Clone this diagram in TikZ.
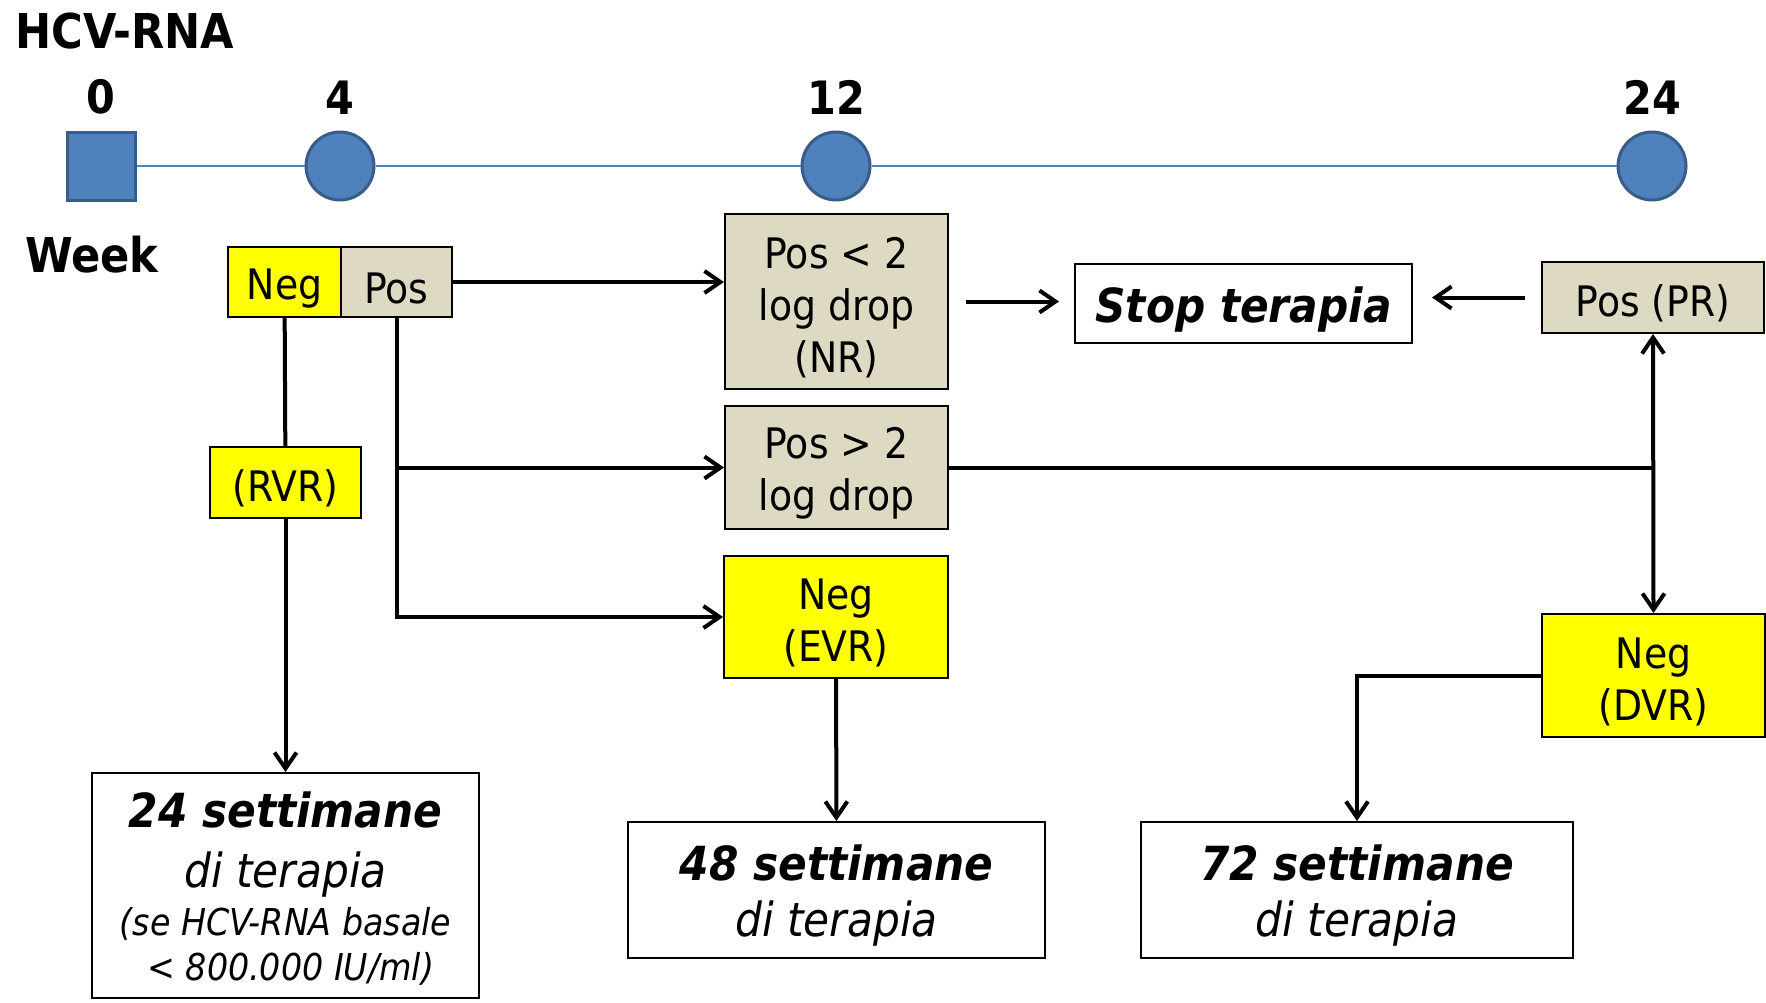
\documentclass[tikz,border=0pt]{standalone}
\usepackage{fontspec}
\setmainfont{DejaVu Sans Condensed}
\usetikzlibrary{positioning,arrows.meta}
\definecolor{tlblue}{HTML}{4F81BD}
\definecolor{tledge}{HTML}{385D8A}
\definecolor{boxyel}{HTML}{FFFF00}
\definecolor{boxtan}{HTML}{DDD9C3}
\newcommand\lift[1][1.03em]{\rule{0pt}{#1}}

\begin{document}
\begin{tikzpicture}[x=0.5pt,y=-0.5pt,line join=miter,>={Straight Barb[length=8pt,width=11pt]},
  every node/.style={inner sep=0pt},
  lowtext/.style={execute at begin node={\lift}},
  lbl/.style={draw=black,line width=1pt,align=center,lowtext,font=\fontsize{21}{26}\selectfont},
  tanbox/.style={lbl,fill=boxtan},
  yelbox/.style={lbl,fill=boxyel},
  endbox/.style={draw=black,line width=1pt,fill=white,align=center,font=\fontsize{23.5}{28}\selectfont\itshape},
  wknum/.style={font=\fontsize{23}{23}\selectfont\bfseries},
  flow/.style={line width=2pt}]
  \useasboundingbox (0,0) rectangle (1766,1002);
  % timeline
  \node[font=\fontsize{24}{24}\selectfont\bfseries] (title) at (125,31) {HCV-RNA};
  \node[font=\fontsize{24}{24}\selectfont\bfseries] (week) at (92,255) {Week};
  \node[draw=tledge,line width=1.5pt,fill=tlblue,minimum size=34pt] (w0) at (101,166) {};
  \node[circle,draw=tledge,line width=1.5pt,fill=tlblue,minimum size=34pt] (w4) at (340,166) {};
  \node[circle,draw=tledge,line width=1.5pt,fill=tlblue,minimum size=34pt] (w12) at (836,166) {};
  \node[circle,draw=tledge,line width=1.5pt,fill=tlblue,minimum size=34pt] (w24) at (1652,166) {};
  \draw[tlblue,line width=1pt] (w0) -- (w4) -- (w12) -- (w24);
  \node[wknum,above=8pt of w0] (n0) {0};
  \node[wknum,above=8pt of w4] (n4) {4};
  \node[wknum,above=8pt of w12] (n12) {12};
  \node[wknum,above=8pt of w24] (n24) {24};
  % week 4
  \node[yelbox,minimum width=56.5pt,minimum height=35pt] (neg) at (284.5,282) {Neg};
  \node[tanbox,minimum width=55.5pt,minimum height=35pt] (pos) at (396.5,282) {Pos};
  \node[yelbox,minimum width=75.5pt,minimum height=35.5pt] (rvr) at (285.5,482.5) {(RVR)};
  % week 12
  \node[tanbox,minimum width=111.5pt,minimum height=87.5pt] (nr) at (836.5,301.5) {\lift Pos < 2\\log drop\\(NR)};
  \node[tanbox,minimum width=111.5pt,minimum height=61.5pt] (drop) at (836.5,467.5) {\lift Pos > 2\\log drop};
  \node[yelbox,minimum width=112pt,minimum height=61pt] (evr) at (836,617) {\lift Neg\\(EVR)};
  \node[draw=black,line width=1pt,minimum width=168.5pt,minimum height=39.5pt,lowtext,
        font=\fontsize{23.5}{24}\selectfont\bfseries\itshape] (stop) at (1243.5,303.5) {Stop terapia};
  % week 24
  \node[tanbox,minimum width=111pt,minimum height=35.5pt] (pr) at (1653,297.5) {Pos (PR)};
  \node[yelbox,minimum width=111.5pt,minimum height=61.5pt] (dvr) at (1653.5,675.5) {\lift Neg\\(DVR)};
  % durations
  \node[endbox,minimum width=193.5pt,minimum height=112.5pt] (t24) at (285.5,885.5)
    {{\lift[0.89em]\bfseries 24 settimane}\\[2pt]di terapia\\[-4pt]{\fontsize{18.5}{22}\selectfont (se HCV-RNA basale}\\[-5.5pt]{\fontsize{18.5}{22}\selectfont\ < 800.000 IU/ml)}};
  \node[endbox,minimum width=208.5pt,minimum height=68pt] (t48) at (836.5,890) {{\lift[1em]\bfseries 48 settimane}\\di terapia};
  \node[endbox,minimum width=216pt,minimum height=68pt] (t72) at (1357,890) {{\lift[1em]\bfseries 72 settimane}\\di terapia};
  % connectors
  \draw[flow] (neg) -- (rvr);
  \draw[flow,->] (rvr) -- (t24);
  \draw[flow,->] (pos.east) -- (pos.east -| nr.west);
  \draw[flow,->] (pos.south) |- (evr.west);
  \draw[flow,->] (pos.south |- drop.west) -- (drop.west);
  \draw[flow,->,shorten <=8.5pt,shorten >=7.5pt] (nr.east) -- (nr.east -| stop.west);
  \draw[flow,->,shorten <=8pt,shorten >=9.5pt] (pr.west) -- (pr.west -| stop.east);
  \coordinate (jn) at (pr.south |- drop.east);
  \draw[flow] (drop.east) -- (jn);
  \draw[flow,<->] (pr.south) -- (dvr.north);
  \draw[flow,->] (dvr.west) -| (t72.north);
  \draw[flow,->] (evr) -- (t48);
\end{tikzpicture}
\end{document}
